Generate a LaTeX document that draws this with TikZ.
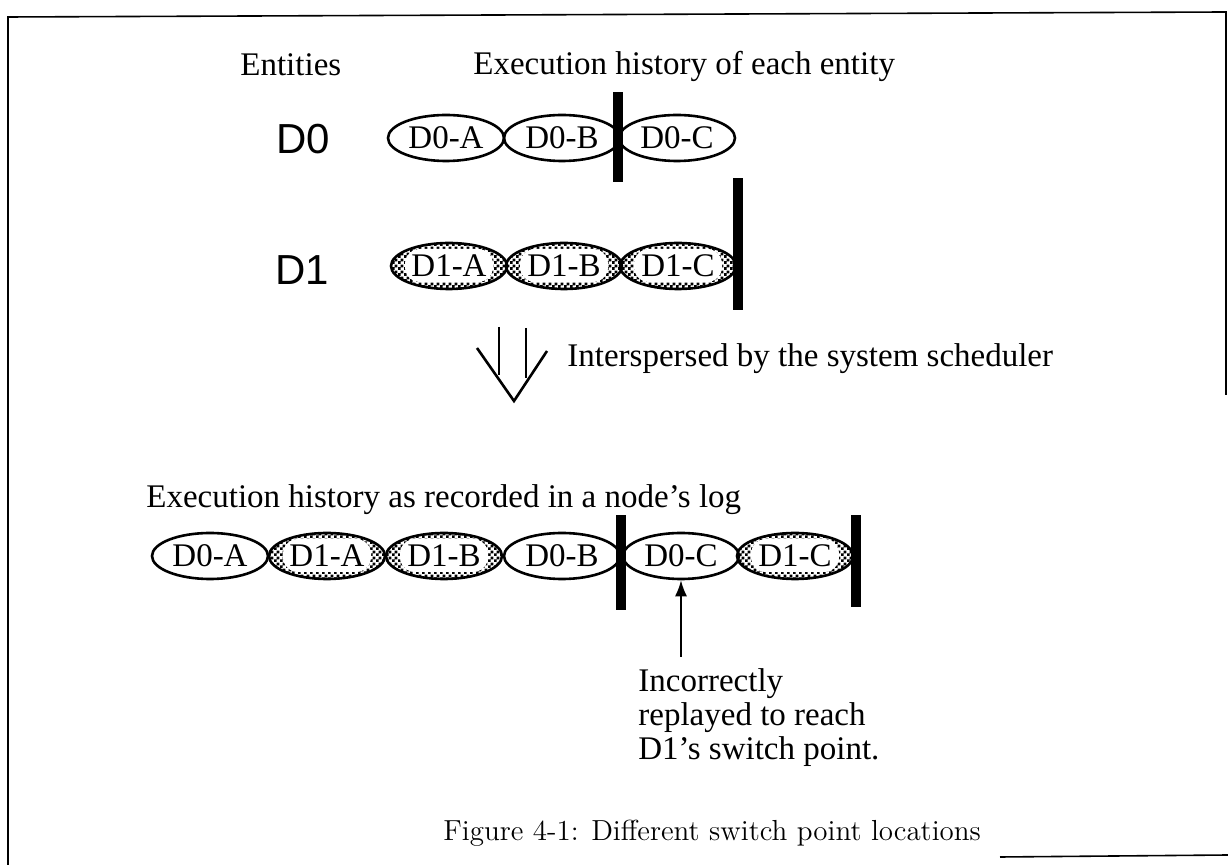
\documentclass[tikz,border=0pt]{standalone}
\usepackage{fontspec}
\newfontfamily\tms{Liberation Serif}
\newfontfamily\hlv{Liberation Sans}
\usetikzlibrary{shapes.geometric,patterns,arrows.meta}
\pgfdeclarepatternformonly{finechecks}{\pgfpointorigin}{\pgfqpoint{2.8pt}{2.8pt}}{\pgfqpoint{2.8pt}{2.8pt}}{%
  \pgfpathrectangle{\pgfpointorigin}{\pgfqpoint{1.45pt}{1.45pt}}%
  \pgfpathrectangle{\pgfqpoint{1.4pt}{1.4pt}}{\pgfqpoint{1.45pt}{1.45pt}}%
  \pgfusepath{fill}}
\tikzset{
  tx/.style={font=\tms\fontsize{16.5}{17}\selectfont, inner sep=0pt},
  ent/.style={font=\hlv\fontsize{21}{24}\selectfont, inner sep=0pt},
  evt/.style={ellipse, draw, line width=1.3pt, minimum width=58pt, minimum height=23pt,
    inner sep=0pt, font=\tms\fontsize{16.5}{17}\selectfont},
  chk/.style={evt, pattern=finechecks,
    path picture={\fill[white, rounded corners=7.5pt]
      ([xshift=-22pt,yshift=-8pt]path picture bounding box.center) rectangle
      ([xshift=22pt,yshift=8.5pt]path picture bounding box.center);}},
  bar/.style={fill=black, inner sep=0pt, minimum width=5pt},
  frame/.style={line width=0.8pt},
  thick arrow/.style={line width=1.3pt},
}
\begin{document}
\begin{tikzpicture}[x=0.5pt, y=-0.5pt]
\useasboundingbox (0,0) rectangle (1228,865);
% frame
\coordinate (f1) at (8,865);
\coordinate (f2) at (8,17);
\coordinate (f3) at (1226,12);
\coordinate (f4) at (1226,395);
\coordinate (g1) at (1000,857);
\coordinate (g2) at (1228,855);
\draw[frame] (f1) -- (f2) -- (f3) -- (f4);
\draw[frame] (g1) -- (g2);
% headings
\node[tx, anchor=base west] (hent) at (240,76) {Entities};
\node[tx, anchor=base west] (hhist) at (473,75) {Execution history of each entity};
% entity labels
\node[ent] (l0) at (303,139) {D0};
\node[ent] (l1) at (302,270) {D1};
% D0 row
\node[evt] (a0) at (446,138) {D0-A};
\node[evt] (b0) at (562,138) {D0-B};
\node[evt] (c0) at (677,138) {D0-C};
\node[bar, minimum height=45pt] (s0) at (618,137) {};
% D1 row
\node[chk] (a1) at (449,266) {D1-A};
\node[chk] (b1) at (564,266) {D1-B};
\node[chk] (c1) at (678,266) {D1-C};
\node[bar, minimum height=66pt] (s1) at (738,244) {};
% hollow down arrow
\coordinate (al) at (477,348);
\coordinate (ap) at (514,401);
\coordinate (ar) at (547,351);
\coordinate (v1a) at (499,327);
\coordinate (v1b) at (499,375);
\coordinate (v2a) at (526,328);
\coordinate (v2b) at (526,378);
\draw[thick arrow] (al) -- (ap) -- (ar);
\draw[thick arrow] (v1a) -- (v1b);
\draw[thick arrow] (v2a) -- (v2b);
\node[tx, anchor=base west] (isp) at (567,367) {Interspersed by the system scheduler};
% log row
\node[tx, anchor=base west] (hlog) at (146,508) {Execution history as recorded in a node’s log};
\node[evt] (la) at (210,556) {D0-A};
\node[chk] (lb) at (327,556) {D1-A};
\node[chk] (lc1) at (444,556) {D1-B};
\node[evt] (ld) at (562,556) {D0-B};
\node[evt] (le) at (681,556) {D0-C};
\node[chk] (lf) at (795,556) {D1-C};
\node[bar, minimum height=47.5pt] (s2) at (621,562.5) {};
\node[bar, minimum height=46pt] (s3) at (856,561) {};
% annotation
\node[tx, anchor=north west, align=left] (note) at (638,668)
  {Incorrectly\\replayed to reach\\D1’s switch point.};
\coordinate (tail) at (le.south |- 0,657);
\draw[line width=0.8pt, -{Latex[length=8pt,width=6pt]}] (tail) -- (le.south);
% caption
\node[font=\fontsize{14.5}{17}\selectfont, inner sep=0pt, anchor=base west] (cap) at (443,841)
  {Figure 4-1: Different switch point locations};
\end{tikzpicture}
\end{document}
